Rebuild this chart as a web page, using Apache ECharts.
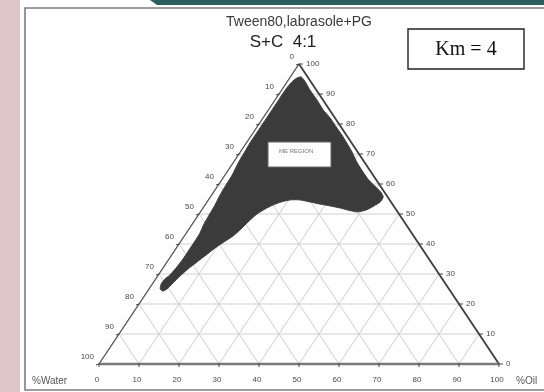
<!DOCTYPE html>
<html><head><meta charset="utf-8">
<script src="https://cdn.jsdelivr.net/npm/echarts@6/dist/echarts.min.js"></script>
<style>html,body{margin:0;padding:0;background:#fff}#c{width:544px;height:392px}</style>
</head><body><div id="c"></div>
<script>
// ---- data ----
const ticks = [0,10,20,30,40,50,60,70,80,90,100];
const gridValues = [10,20,30,40,50,60,70,80,90];
// ME region boundary (ternary composition, %): oil and S+C; water = 100 - oil - S+C
const regionOil = [2.7,4.3,7.1,10.5,13.7,16.8,19.8,22.6,24.8,27.9,30.8,34,36.8,39.3,41.8,43.2,43.3,42.4,41.1,39.2,36.6,34.3,31.4,28.6,25.8,22.9,20.4,18.5,17,15.7,14.5,13.7,13,12.2,10.9,9.7,8.6,7.5,6.4,5.6,5,4.5,3.8,2.8,2.2,2.3,2.9,3.3,3.5,3.5,3.5,3.4,2.9,2.7,2.5,2.1,1.9,1.8,1.3,1.1,0.9,0.9,0.9,0.9,0.9,0.9,0.9,1.2,1.8];
const regionSC  = [95.7,94.3,91.3,88,84.7,82,79,76.3,74,70.7,67.3,64,61.3,59.3,57.3,55.7,54,52.7,51.3,50.7,51.3,52,52.7,53.3,54,54.7,54.7,54,53,51.7,50,47.7,45,42.7,40.7,38.7,36.3,34,31.7,29.3,27,25,24.3,25,26.7,28.3,29.7,32.3,35,38,41,43.7,46.7,49.7,53,56.3,59.7,63,67,70.3,73.7,76.7,79.7,82.7,85.7,88.7,91.7,94,95.3];
const title1 = 'Tween80,labrasole+PG';
const title2 = 'S+C  4:1';
const kmLabel = 'Km = 4';
const regionLabel = 'ME REGION';
const waterLabel = '%Water';
const oilLabel = '%Oil';

// ternary (oil, S+C) -> cartesian data coords
function tx(oil, sc){ return [oil + sc/2, sc]; }

const chart = echarts.init(document.getElementById('c'), null, {renderer:'canvas'});

function gridItem(params, api){
  const v = api.value(0);
  const ls = {stroke:'#cfcfcf', lineWidth:1};
  const seg = (a,b)=>{const p=api.coord(a), q=api.coord(b);return {type:'line',shape:{x1:p[0],y1:p[1],x2:q[0],y2:q[1]},style:ls};};
  return {type:'group',children:[
    seg(tx(0,v), tx(100-v,v)),
    seg(tx(v,0), tx(v,100-v)),
    seg(tx(100-v,0), tx(0,100-v))
  ]};
}
function regionItem(params, api){
  const pts = regionOil.map((o,i)=>api.coord(tx(o, regionSC[i])));
  return {type:'polygon',shape:{points:pts,smooth:0.2},style:{fill:'#3b3b3b',stroke:'#404040',lineWidth:1}};
}
function edgeItem(params, api){
  const A = api.coord(tx(0,0)), B = api.coord(tx(100,0)), C = api.coord(tx(0,100));
  return {type:'group',children:[
    {type:'line',shape:{x1:A[0],y1:A[1],x2:C[0],y2:C[1]},style:{stroke:'#4a4a4a',lineWidth:1.3}},
    {type:'line',shape:{x1:C[0],y1:C[1],x2:B[0],y2:B[1]},style:{stroke:'#3e3e3e',lineWidth:1.8}},
    {type:'line',shape:{x1:A[0],y1:A[1],x2:B[0],y2:B[1]},style:{stroke:'#7a7a7a',lineWidth:2.6}}
  ]};
}
function tickItem(params, api){
  const v = api.value(0);
  const font = '8px Arial, "Liberation Sans", sans-serif';
  const fill = '#4a4a4a';
  const b = api.coord(tx(v,0));           // bottom edge: oil
  const rr = api.coord(tx(100-v, v));     // right edge: S+C (water = 0)
  const l = api.coord(tx(0, 100-v));      // left edge: water (oil = 0)
  const ts = {stroke:'#444', lineWidth:1};
  return {type:'group',children:[
    {type:'line',shape:{x1:b[0],y1:b[1]-1,x2:b[0],y2:b[1]+3},style:ts},
    {type:'text',style:{text:String(v),x:b[0]-2,y:b[1]+16,textAlign:'center',textVerticalAlign:'middle',font:font,fill:fill}},
    {type:'line',shape:{x1:rr[0],y1:rr[1],x2:rr[0]+4,y2:rr[1]},style:ts},
    {type:'text',style:{text:String(v),x:rr[0]+7,y:rr[1],textAlign:'left',textVerticalAlign:'middle',font:font,fill:fill}},
    {type:'line',shape:{x1:l[0],y1:l[1],x2:l[0]-3,y2:l[1]+1},style:ts},
    {type:'text',style:{text:String(v),x:l[0]-5,y:l[1]-7,textAlign:'right',textVerticalAlign:'middle',font:font,fill:fill}}
  ]};
}

const option = {
  animation:false,
  backgroundColor:'#ffffff',
  grid:{left:99, top:64, width:400, height:300},
  xAxis:{type:'value',min:0,max:100,show:false},
  yAxis:{type:'value',min:0,max:100,show:false},
  series:[
    {type:'custom',renderItem:gridItem,data:gridValues.map(v=>[v]),z:1,silent:true,clip:false},
    {type:'custom',renderItem:regionItem,data:[[0]],z:2,silent:true,clip:false},
    {type:'custom',renderItem:edgeItem,data:[[0]],z:3,silent:true,clip:false},
    {type:'custom',renderItem:tickItem,data:ticks.map(v=>[v]),z:4,silent:true,clip:false}
  ],
  graphic:[
    {type:'rect',shape:{x:0,y:0,width:20,height:392},style:{fill:'#dfc6c7'},z:-10},
    {type:'polygon',shape:{points:[[150,0],[544,0],[544,5],[157,5]]},style:{fill:'#2a5d5c'},z:-9},
    {type:'rect',shape:{x:25,y:8,width:540,height:382},style:{fill:'none',stroke:'#7d7d7d',lineWidth:1.6},z:-8},
    {type:'text',style:{text:title1,x:299,y:22,textAlign:'center',textVerticalAlign:'middle',font:'14px Arial, "Liberation Sans", sans-serif',fill:'#3a3a3a'}},
    {type:'text',style:{text:title2,x:283,y:42,textAlign:'center',textVerticalAlign:'middle',font:'17px Arial, "Liberation Sans", sans-serif',fill:'#222'}},
    {type:'rect',shape:{x:408,y:29,width:116,height:40},style:{fill:'#fff',stroke:'#222',lineWidth:1.4}},
    {type:'text',style:{text:kmLabel,x:466,y:50,textAlign:'center',textVerticalAlign:'middle',font:'20px "Liberation Serif", "Times New Roman", serif',fill:'#111'}},
    {type:'rect',shape:{x:268,y:142,width:63,height:25},style:{fill:'#fff',stroke:'#666',lineWidth:1},z:10},
    {type:'text',style:{text:regionLabel,x:279,y:151,textAlign:'left',textVerticalAlign:'middle',font:'6px Arial, "Liberation Sans", sans-serif',fill:'#777'},z:11},
    {type:'text',style:{text:waterLabel,x:32,y:381,textAlign:'left',textVerticalAlign:'middle',font:'10px Arial, "Liberation Sans", sans-serif',fill:'#555'}},
    {type:'text',style:{text:oilLabel,x:516,y:381,textAlign:'left',textVerticalAlign:'middle',font:'10px Arial, "Liberation Sans", sans-serif',fill:'#555'}}
  ]
};
chart.setOption(option);
</script>
</body></html>
